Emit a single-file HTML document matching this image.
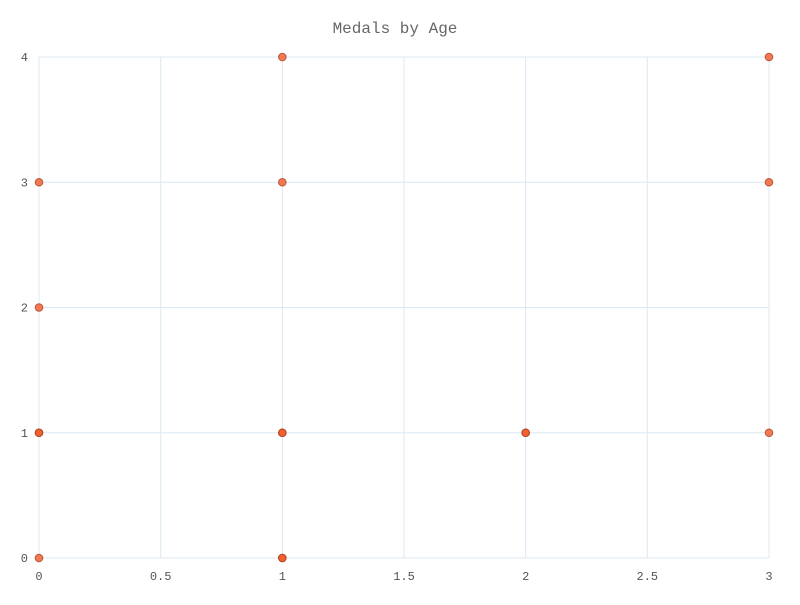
<!DOCTYPE html>
<html><head><meta charset="utf-8">
<style>
html,body{margin:0;padding:0;background:#fff;}
svg text{font-family:"Liberation Mono",monospace;}
</style></head>
<body>
<svg id="chart" width="800" height="600" viewBox="0 0 800 600">
<text x="395" y="33" text-anchor="middle" font-size="16" fill="#666">Medals by Age</text>
<g id="grid"></g><g id="ticks"></g><g id="points"></g>
</svg>
<script>
const xValues=[0,0,0,0,0,1,1,1,1,1,1,2,2,3,3,3];
const yValues=[0,1,1,2,3,0,0,1,1,3,4,1,1,1,3,4];
const xTicks=[0,0.5,1,1.5,2,2.5,3];
const yTicks=[0,1,2,3,4];
const X0=39,X1=769,Y0=558,Y1=57;
const sx=v=>X0+(v-0)/(3-0)*(X1-X0);
const sy=v=>Y0-(v-0)/(4-0)*(Y0-Y1);
const NS="http://www.w3.org/2000/svg";
const grid=document.getElementById('grid'),ticks=document.getElementById('ticks'),pts=document.getElementById('points');
function mk(t,a){const e=document.createElementNS(NS,t);for(const k in a)e.setAttribute(k,a[k]);return e;}
xTicks.forEach(v=>{
  const l=mk('line',{x1:sx(v),x2:sx(v),y1:Y1,y2:Y0,stroke:'#dde8f2','stroke-width':1});
  
  
  grid.appendChild(l);
  const t=mk('text',{x:sx(v),y:Y0+22,'text-anchor':'middle','font-size':12,fill:'#555'});
  t.textContent=v;
  
  
  ticks.appendChild(t);
});
yTicks.forEach(v=>{
  const l=mk('line',{x1:X0,x2:X1,y1:sy(v),y2:sy(v),stroke:'#dde8f2','stroke-width':1});
  
  
  grid.appendChild(l);
  const t=mk('text',{x:X0-11,y:sy(v)+4,'text-anchor':'end','font-size':12,fill:'#555'});
  t.textContent=v;
  
  
  ticks.appendChild(t);
});
xValues.forEach((x,i)=>{
  const c=mk('circle',{cx:sx(x),cy:sy(yValues[i]),r:3.8,fill:'rgba(240,90,40,0.8)',stroke:'rgba(170,60,30,0.8)','stroke-width':1});
  
  
  pts.appendChild(c);
});
</script>
</body></html>
